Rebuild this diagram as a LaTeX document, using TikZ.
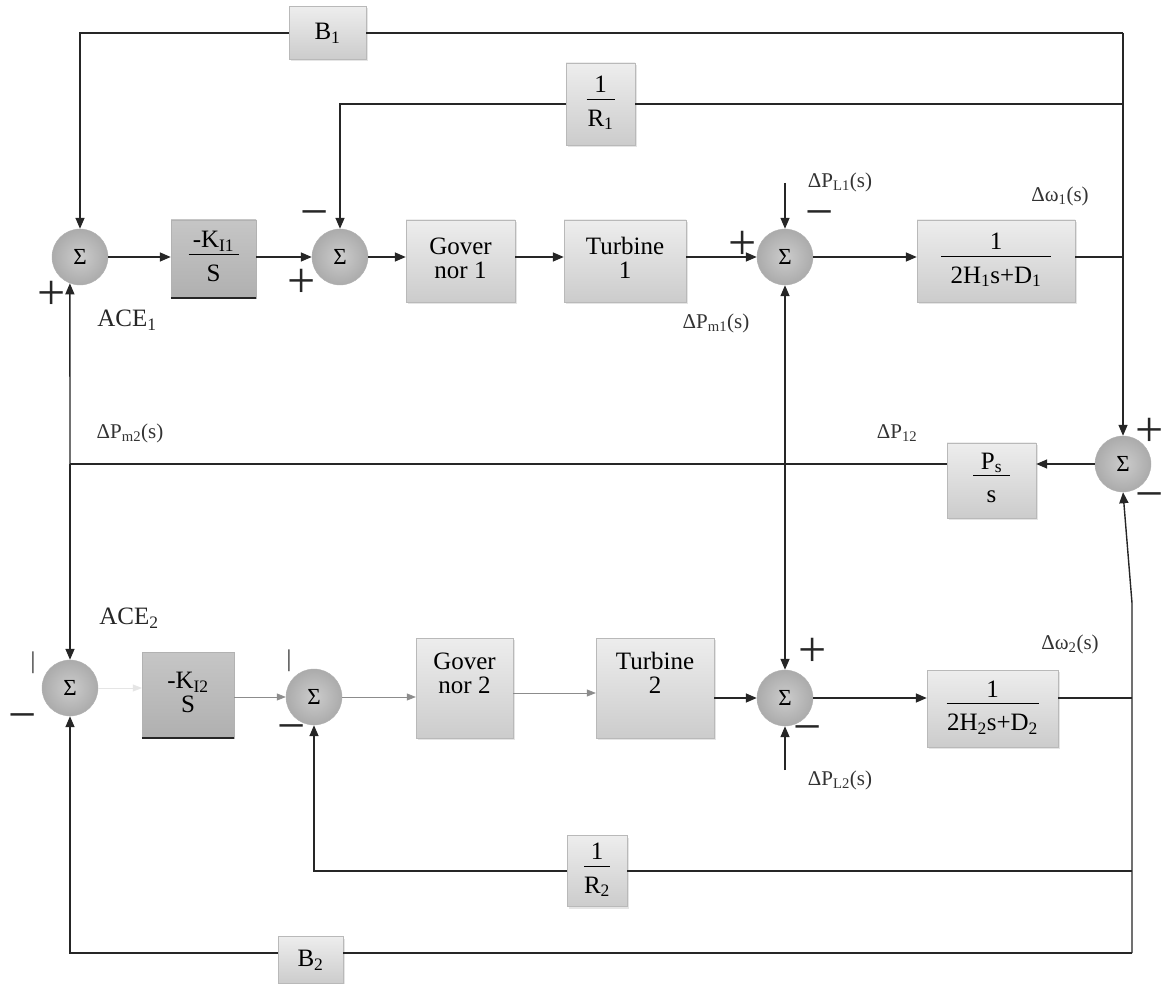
\documentclass[tikz,border=0pt]{standalone}
\usepackage{fontspec}
\setmainfont{Liberation Serif}
\usetikzlibrary{arrows.meta,shadows}
\setlength{\arrayrulewidth}{1.2pt}
\newcommand\blkfrac[3]{\begin{tabular}{@{}c@{}}\makebox[#3]{#1}\\[-2pt]\hline\rule{0pt}{1.05em}#2\end{tabular}}
\newcommand\twoline[2]{\begin{tabular}{@{}c@{}}#1\\[-3pt]#2\end{tabular}}
\newcommand\liftup[2]{\raisebox{#1}[\height][\depth]{#2}}
\begin{document}
\begin{tikzpicture}[x=1pt,y=-1pt,
  wire/.style={line width=1.4pt, draw=black!85},
  thinwire/.style={line width=0.7pt, draw=black!45},
  arr/.style={-{Triangle[length=11pt,width=9pt]}},
  sarr/.style={-{Triangle[length=9pt,width=7pt]}},
  sumnode/.style={circle, minimum size=56pt, inner sep=0pt, inner color=gray!40, outer color=gray!66, draw=gray!60, font=\fontsize{23}{23}\selectfont},
  blk/.style={rectangle, inner sep=0pt, top color=gray!14, bottom color=gray!40, draw=gray!55, font=\fontsize{25}{27}\selectfont, drop shadow={shadow xshift=1.5pt,shadow yshift=-2pt,fill=gray!40}},
  darkblk/.style={rectangle, inner sep=0pt, top color=gray!45, bottom color=gray!62, draw=gray!60, font=\fontsize{25}{27}\selectfont},
  lbl/.style={font=\fontsize{21}{21}\selectfont, text=black!80, inner sep=0pt},
  acelbl/.style={font=\fontsize{25}{25}\selectfont, text=black!85, inner sep=0pt},
  sgn/.style={font=\fontsize{50}{50}\selectfont, inner sep=0pt, text=black!85},
]
\useasboundingbox (0,0) rectangle (1163,984);
\fill[white] (0,0) rectangle (1163,984);

% ---------------- top loop ----------------
\node[sumnode] (S1) at (80,257) {Σ};
\node[darkblk, minimum width=85pt, minimum height=78pt] (K1) at (213.5,259) {\blkfrac{-K\textsubscript{I1}}{S}{50pt}};
\draw[line width=2.2pt, gray!30!black] (K1.south west) -- (K1.south east);
\node[sumnode] (S2) at (340,257) {Σ};
\node[blk, minimum width=109pt, minimum height=82pt] (G1) at (460.5,261) {\twoline{Gover}{nor 1}};
\node[blk, minimum width=122pt, minimum height=82pt] (T1) at (625,261) {\twoline{Turbine}{1}};
\node[sumnode] (S3) at (785,257) {Σ};
\node[blk, minimum width=158pt, minimum height=82pt] (P1) at (996,261) {\blkfrac{1}{2H\textsubscript{1}s+D\textsubscript{1}}{110pt}};
\node[blk, minimum width=77pt, minimum height=53pt] (B1) at (327.5,33) {B\textsubscript{1}};
\node[blk, minimum width=69pt, minimum height=82pt] (R1) at (600.5,104) {\blkfrac{1}{R\textsubscript{1}}{28pt}};

% ---------------- tie line ----------------
\node[sumnode] (S4) at (1123,464) {Σ};
\node[blk, minimum width=89pt, minimum height=75pt] (PS) at (991.5,480.5) {\blkfrac{P\textsubscript{s}}{s}{37pt}};

% ---------------- bottom loop ----------------
\node[sumnode] (S5) at (70,688) {Σ};
\node[darkblk, minimum width=92pt, minimum height=86pt] (K2) at (188,695) {\twoline{-K\textsubscript{I2}}{S}};
\draw[line width=2.2pt, gray!30!black] (K2.south west) -- (K2.south east);
\node[sumnode] (S7) at (314,697) {Σ};
\node[blk, minimum width=97pt, minimum height=100pt] (G2) at (464.5,688) {\liftup{12pt}{\twoline{Gover}{nor 2}}};
\node[blk, minimum width=118pt, minimum height=100pt] (T2) at (655,688) {\liftup{12pt}{\twoline{Turbine}{2}}};
\node[sumnode] (S6) at (785,698) {Σ};
\node[blk, minimum width=131pt, minimum height=77pt] (P2) at (992.5,708.5) {\blkfrac{1}{2H\textsubscript{2}s+D\textsubscript{2}}{92pt}};
\node[blk, minimum width=60pt, minimum height=71pt] (R2) at (597,871) {\blkfrac{1}{R\textsubscript{2}}{19pt}};
\node[blk, minimum width=65pt, minimum height=47pt] (B2) at (310.5,960) {B\textsubscript{2}};

% ---------------- coordinates ----------------
\coordinate (TR) at (1123,33);
\coordinate (TL) at (80,33);
\coordinate (RR) at (1123,104);
\coordinate (RL) at (340,104);
\coordinate (ML) at (70,464);
\coordinate (MM) at (785,464);
\coordinate (BL) at (70,953);
\coordinate (BR) at (1132,953);
\coordinate (R2R) at (1132,871);
\coordinate (R2L) at (314,871);
\coordinate (KNK) at (1132,603);
\coordinate (DL1) at (785,183);
\coordinate (DL2) at (785,770);

% ---------------- top wires ----------------
\draw[wire,arr] (S1.east) -- (K1.west |- S1.east);
\draw[wire,arr] (K1.east |- S2.west) -- (S2.west);
\draw[wire,arr] (S2.east) -- (G1.west |- S2.east);
\draw[wire,arr] (G1.east |- S2.east) -- (T1.west |- S2.east);
\draw[wire,arr] (T1.east |- S3.west) -- (S3.west);
\draw[wire,arr] (S3.east) -- (P1.west |- S3.east);
\draw[wire] (P1.east |- S3.east) -- (TR |- S3.east);
\draw[wire] (B1.east) -- (TR);
\draw[wire,arr] (B1.west) -- (TL) -- (S1.north);
\draw[wire] (R1.east) -- (RR);
\draw[wire,arr] (R1.west) -- (RL) -- (S2.north);
\draw[wire,arr] (TR) -- (S4.north);
\draw[wire,arr] (DL1) -- (S3.north);

% ---------------- tie wires ----------------
\draw[wire,arr] (S4.west) -- (PS.east |- S4.west);
\draw[wire] (PS.west |- S4.west) -- (ML);
\draw[wire,arr] (MM) -- (S3.south);
\draw[wire,arr] (MM) -- (S6.north);
\draw[wire,arr] (ML) -- (S1.-111);
\draw[wire,arr] (ML) -- (S5.north);

% ---------------- bottom wires ----------------
\draw[draw=gray!20, line width=0.5pt, sarr] (S5.east) -- (K2.west |- S5.east);
\draw[thinwire,sarr] (K2.east |- S7.west) -- (S7.west);
\draw[thinwire,sarr] (S7.east) -- (G2.west |- S7.east);
\draw[thinwire,sarr] ([yshift=-5pt]G2.east) -- ([yshift=-5pt]T2.west);
\draw[wire,arr] (T2.east |- S6.west) -- (S6.west);
\draw[wire,arr] (S6.east) -- (P2.west |- S6.east);
\draw[wire] (P2.east |- S6.east) -- (BR |- S6.east);
\draw[wire,arr] (B2.west |- BL) -- (BL) -- (S5.south);
\draw[wire] (B2.east |- BL) -- (BR);
\draw[wire,arr] (R2.west) -- (R2L) -- (S7.south);
\draw[wire] (R2.east) -- (R2R);
\draw[wire,arr] (BR) -- (KNK) -- (S4.south);
\draw[wire,arr] (DL2) -- (S6.south);

% ---------------- labels ----------------
\node[lbl] (lPL1) at (840,182) {ΔP\textsubscript{L1}(s)};
\node[lbl] (lw1) at (1060,196) {Δω\textsubscript{1}(s)};
\node[lbl] (lPm1) at (716,323) {ΔP\textsubscript{m1}(s)};
\node[acelbl] (lACE1) at (127,320) {ACE\textsubscript{1}};
\node[lbl] (lPm2) at (130,433) {ΔP\textsubscript{m2}(s)};
\node[lbl] (lP12) at (897,433) {ΔP\textsubscript{12}};
\node[acelbl] (lACE2) at (129,618) {ACE\textsubscript{2}};
\node[lbl] (lw2) at (1070,644) {Δω\textsubscript{2}(s)};
\node[lbl] (lPL2) at (840,780) {ΔP\textsubscript{L2}(s)};

% ---------------- signs ----------------
\node[sgn] (s1p) at (52,295) {+};
\node[sgn] (s2m) at (315,220) {−};
\node[sgn] (s2p) at (302,283) {+};
\node[sgn] (s3p) at (743,245) {+};
\node[sgn] (s3m) at (820,220) {−};
\node[sgn] (s4p) at (1150,432) {+};
\node[sgn] (s4m) at (1150,502) {−};
\node[sgn, font=\fontsize{24}{24}\selectfont] (s5p) at (33,663) {|};
\node[sgn] (s5m) at (23,723) {−};
\node[sgn, font=\fontsize{24}{24}\selectfont] (s7p) at (289,661) {|};
\node[sgn] (s7m) at (292,734) {−};
\node[sgn] (s6p) at (813,652) {+};
\node[sgn] (s6m) at (808,735) {−};
\end{tikzpicture}
\end{document}
